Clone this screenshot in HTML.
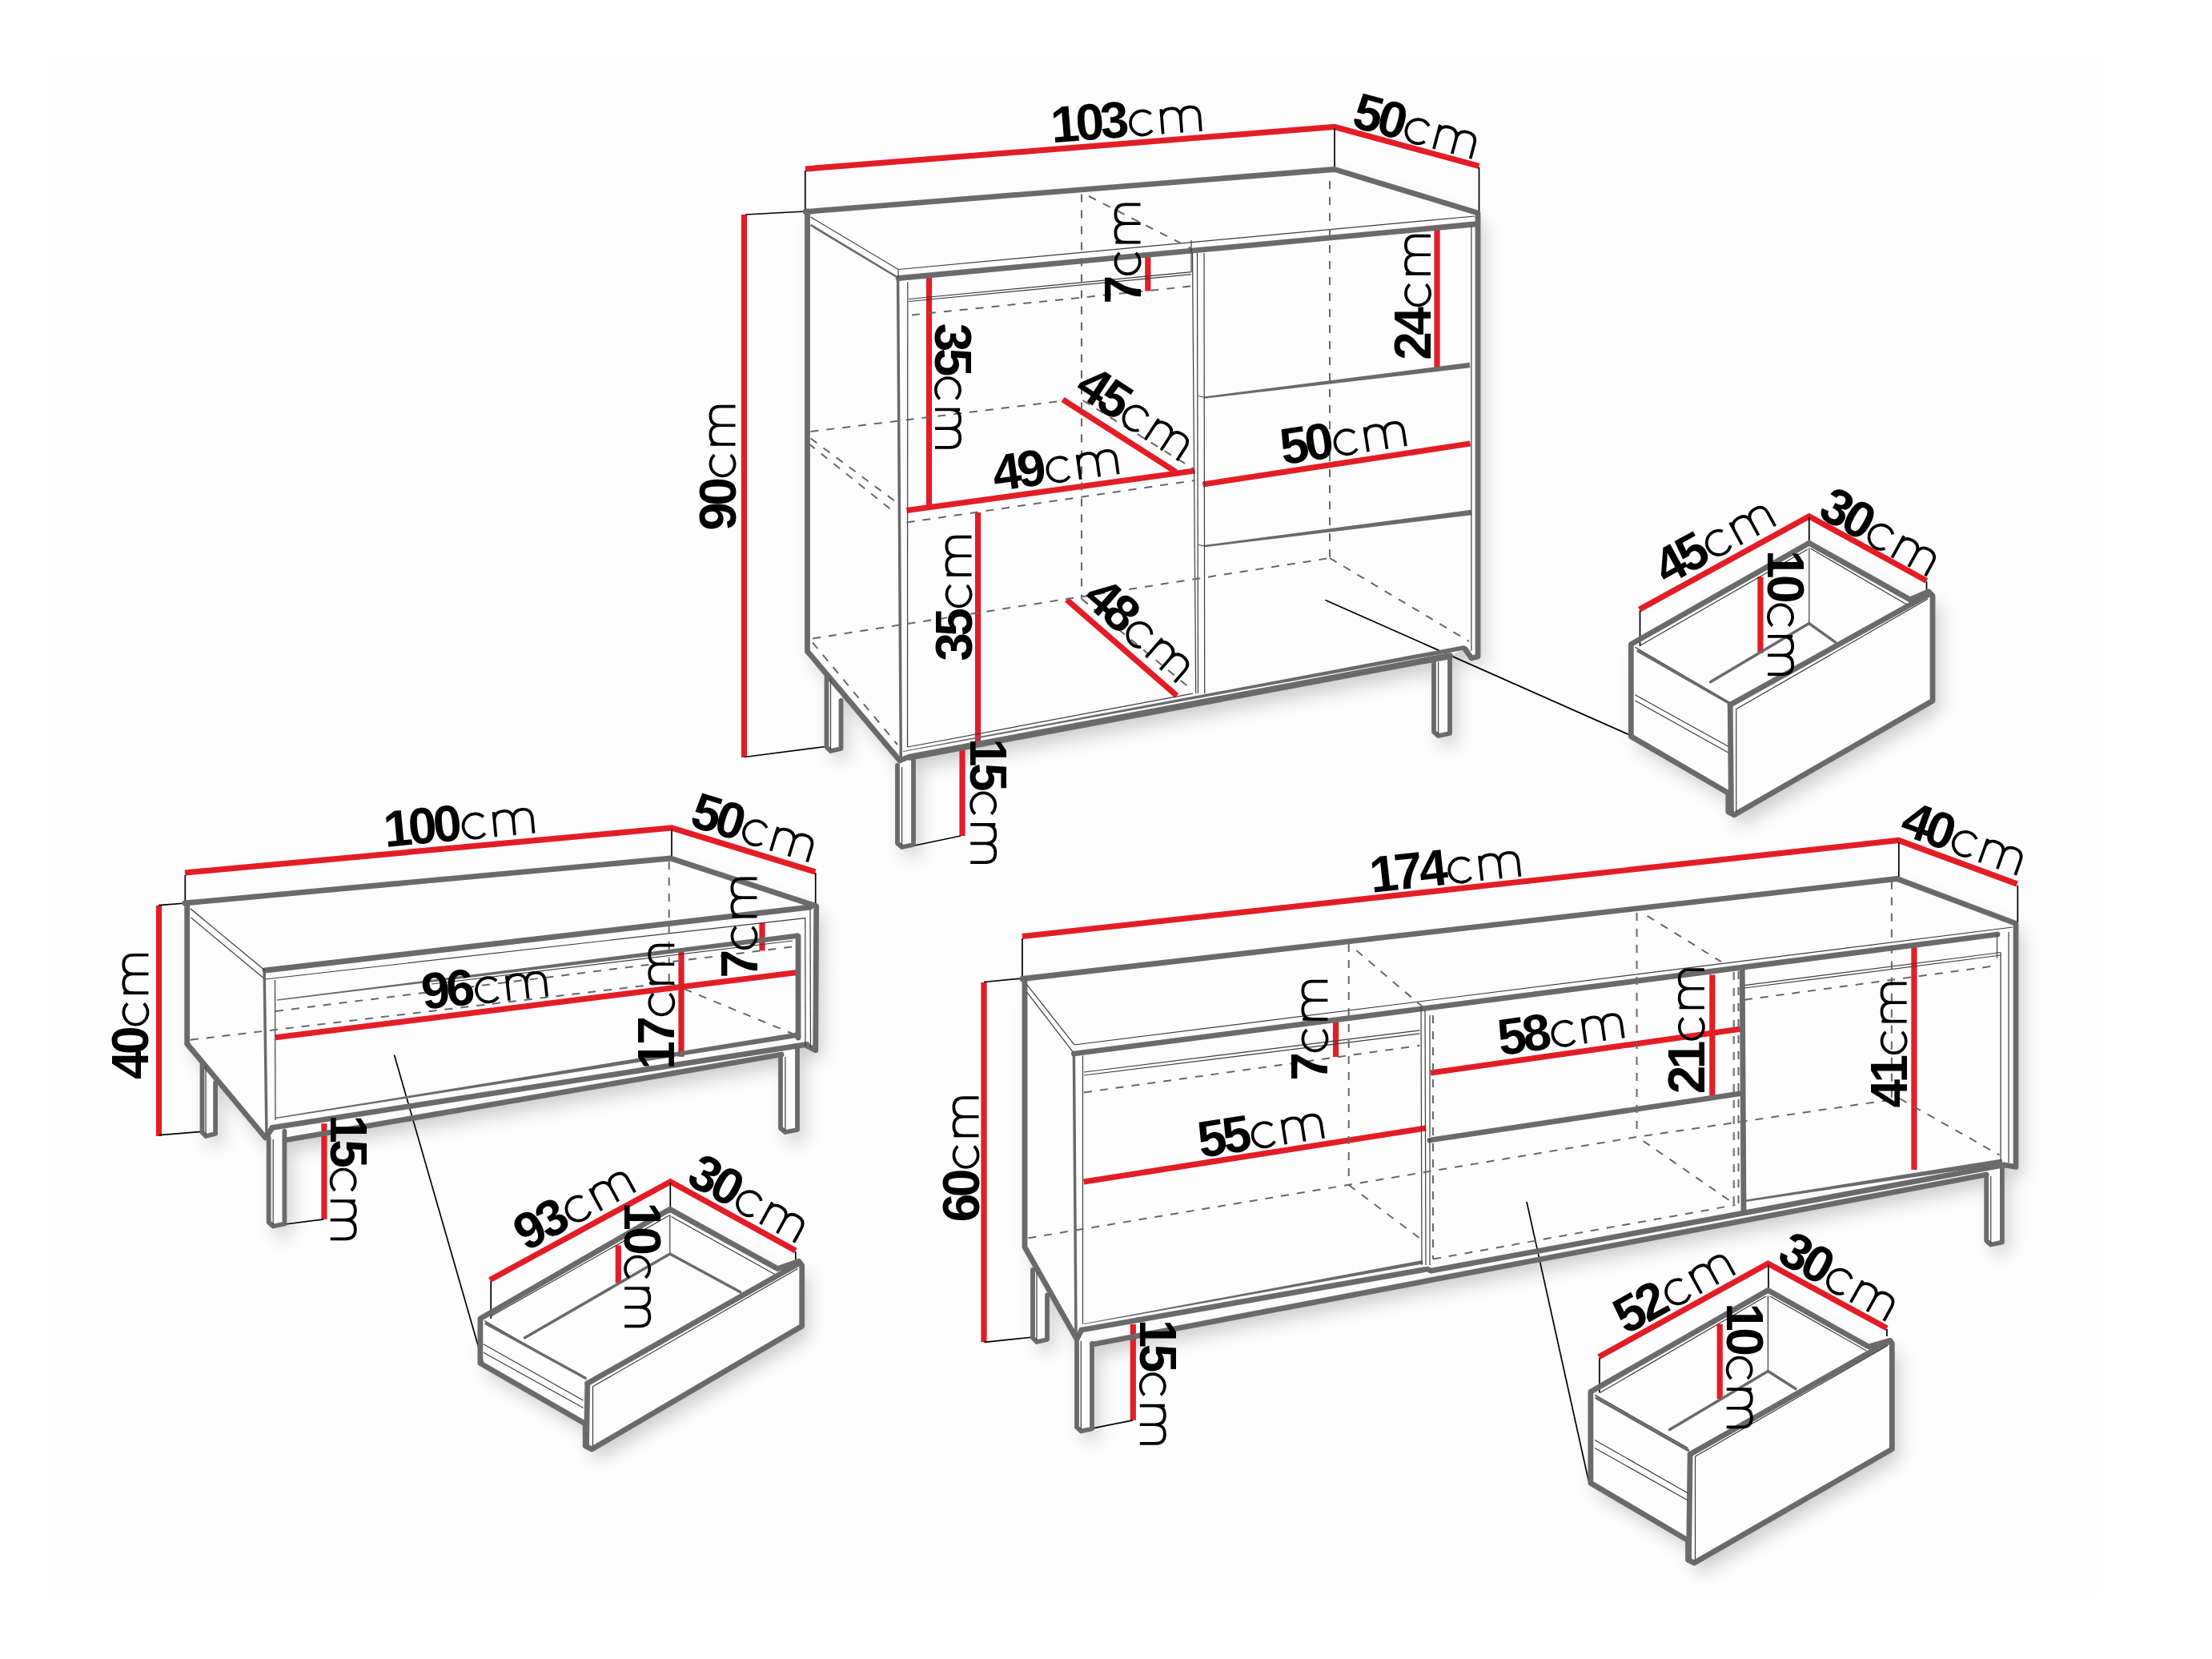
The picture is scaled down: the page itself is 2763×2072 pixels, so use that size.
<!DOCTYPE html>
<html><head><meta charset="utf-8"><title>Furniture dimensions</title>
<style>
html,body{margin:0;padding:0;background:#fefefe;}
body{width:2763px;height:2072px;overflow:hidden;}
svg{display:block;}
.r{fill:none;stroke:#e31d26;stroke-width:7.2;stroke-linejoin:miter;}
.g{fill:none;stroke:#6a6a6a;stroke-width:6.8;stroke-linejoin:round;stroke-linecap:round;}
.g4{fill:none;stroke:#6a6a6a;stroke-width:5.8;stroke-linejoin:round;stroke-linecap:round;}
.gm{fill:none;stroke:#6a6a6a;stroke-width:3.5;stroke-linecap:round;}
.gm2{fill:none;stroke:#6a6a6a;stroke-width:2.6;}
.g8{fill:none;stroke:#6a6a6a;stroke-width:8;stroke-linecap:round;}
.wg{fill:#6a6a6a;stroke:none;}
.t{fill:none;stroke:#3c3c3c;stroke-width:1.2;}
.d{fill:none;stroke:#676767;stroke-width:2;stroke-dasharray:10 10;}
.k{fill:none;stroke:#000;stroke-width:1.7;}
.lab text{font-family:"Liberation Sans",sans-serif;fill:#000;font-weight:bold;}
.sh polyline{fill:none;stroke:#000;stroke-width:14;stroke-linecap:round;}
</style></head>
<body>
<svg xmlns="http://www.w3.org/2000/svg" width="2763" height="2072" viewBox="0 0 2763 2072">
<defs><filter id="ds" x="-5%" y="-5%" width="115%" height="115%"><feGaussianBlur in="SourceAlpha" stdDeviation="11"/><feOffset dx="8" dy="13" result="b"/><feFlood flood-color="#000" flood-opacity="0.19"/><feComposite in2="b" operator="in"/><feMerge><feMergeNode/><feMergeNode in="SourceGraphic"/></feMerge></filter></defs>
<rect x="0" y="0" width="2763" height="2072" fill="#fefefe"/>
<rect x="62" y="70" width="2560" height="1920" fill="#fdfdfd"/>
<g filter="url(#ds)" fill="#fdfdfd">
<polygon points="1006.0,264.5 1667.0,211.5 1846.0,266.0 1846.0,820.0 1838.0,822.0 1830.0,810.0 1811.0,819.0 1811.0,917.0 1798.0,920.0 1791.0,915.0 1791.0,825.0 1141.0,946.0 1141.0,1056.0 1126.0,1058.5 1121.0,1052.0 1121.0,956.0 1124.0,950.0 1050.5,863.0 1050.5,935.0 1036.0,937.5 1032.5,932.5 1032.5,842.0 1008.5,813.5 1008.5,264.0"/>
<polygon points="2037.3,804.6 2259.8,678.2 2385.5,748.8 2409.0,739.0 2414.0,744.0 2414.0,875.2 2166.2,1017.7 2158.8,1014.0 2158.8,990.4 2037.3,919.8"/>
<polygon points="230.7,1128.0 837.7,1072.0 1019.7,1131.7 1018.7,1311.7 1008.0,1306.0 996.4,1306.0 996.4,1411.0 980.0,1415.0 975.0,1411.0 975.0,1318.0 355.4,1424.0 355.4,1530.0 341.0,1533.0 335.7,1528.0 335.7,1421.0 331.5,1420.9 269.1,1346.1 269.1,1417.0 255.6,1419.3 252.5,1416.8 252.5,1326.2 233.7,1303.7 233.7,1128.0"/>
<polygon points="599.9,1646.9 836.8,1510.3 971.2,1584.6 997.8,1575.3 1001.7,1580.6 1001.7,1656.2 739.2,1810.0 731.2,1806.0 731.2,1778.2 599.9,1702.6"/>
<polygon points="1276.9,1222.5 2369.5,1097.5 2518.0,1153.4 2518.0,1457.4 2504.0,1455.0 2500.9,1457.4 2500.9,1551.0 2487.0,1554.3 2481.2,1550.0 2481.2,1467.0 1364.0,1679.0 1364.0,1783.8 1348.8,1787.5 1345.0,1781.2 1345.0,1672.5 1308.0,1607.0 1308.0,1672.5 1293.8,1676.2 1290.0,1672.5 1290.0,1575.2 1280.0,1557.5 1280.0,1223.0"/>
<polygon points="1986.9,1738.2 2208.4,1611.5 2333.9,1681.9 2360.8,1674.2 2363.3,1678.0 2363.3,1809.9 2116.2,1952.0 2108.5,1948.2 2108.5,1923.9 1986.9,1852.2"/>
</g>
<polyline class="r" points="1006.0,211.0 1667.0,158.5 1847.5,207.5"/>
<polyline class="r" points="929.5,268.0 929.5,946.0"/>
<polyline class="r" points="1433.8,320.0 1433.8,363.5"/>
<polyline class="r" points="1160.5,345.0 1160.5,631.5"/>
<polyline class="r" points="1795.0,284.0 1795.0,461.0"/>
<polyline class="r" points="1327.5,499.0 1469.0,589.5"/>
<polyline class="r" points="1132.5,637.5 1492.5,588.0"/>
<polyline class="r" points="1502.5,605.0 1836.5,554.0"/>
<polyline class="r" points="1221.5,640.0 1221.5,932.0"/>
<polyline class="r" points="1332.5,749.0 1470.0,869.0"/>
<polyline class="r" points="1202.0,936.0 1202.0,1044.0"/>
<polyline class="k" points="1005.8,213.0 1005.8,264.0 931.0,268.0"/>
<polyline class="k" points="1667.0,160.0 1667.0,211.0"/>
<polyline class="k" points="1847.5,209.0 1847.5,266.0"/>
<polyline class="k" points="930.0,945.5 1031.0,932.5"/>
<polyline class="k" points="1142.5,1056.0 1200.0,1044.0"/>
<polyline class="k" points="1655.5,749.5 2034.5,917.5"/>
<polyline class="g" points="1006.0,264.5 1667.0,211.5 1846.0,266.0 1846.0,820.0 1838.0,822.0 1830.0,810.5"/>
<polyline class="g" points="1008.5,264.0 1008.5,813.5 1124.0,950.0 1132.0,946.5"/>
<polyline class="g" points="1122.0,347.5 1842.0,280.0"/>
<polygon class="wg" points="1128.1,939.1 1830.5,811.4 1829.5,806.0 1127.9,937.9"/>
<polyline class="g8" points="1136.0,945.7 1811.0,819.2"/>
<polygon class="wg" points="1505.2,497.7 1836.4,459.2 1835.6,452.8 1504.8,495.3"/>
<polygon class="wg" points="1505.2,683.2 1838.4,643.2 1837.6,636.8 1504.8,680.8"/>
<polyline class="gm" points="1121.6,350.0 1125.3,950.0"/>
<polyline class="t" points="1012.5,271.0 1122.0,336.5 1842.0,270.0"/>
<polyline class="gm2" points="1012.5,281.0 1122.0,347.0"/>
<polyline class="t" points="1122.0,336.5 1122.0,347.5"/>
<polyline class="t" points="1133.8,352.0 1133.5,933.0"/>
<polyline class="t" points="1135.0,373.5 1488.0,339.7 1488.0,300.0"/>
<polyline class="t" points="1135.0,376.5 1488.0,342.7"/>
<polyline class="t" points="1489.5,316.0 1493.7,866.0"/>
<polyline class="t" points="1495.5,316.0 1496.5,866.0"/>
<polyline class="t" points="1504.0,316.0 1504.7,866.0"/>
<polyline class="t" points="1837.9,282.0 1837.9,813.0"/>
<polyline class="t" points="1133.5,933.0 1490.0,866.2"/>
<polyline class="t" points="1497.0,494.5 1505.0,496.5"/>
<polyline class="t" points="1497.0,680.5 1505.0,682.0"/>
<polyline class="d" points="1351.0,242.5 1351.0,748.0"/>
<polyline class="d" points="1661.0,226.0 1661.0,697.0"/>
<polyline class="d" points="1360.0,245.0 1487.0,310.0"/>
<polyline class="d" points="1139.0,393.4 1487.0,357.6"/>
<polyline class="d" points="1012.5,539.0 1325.0,501.0"/>
<polyline class="d" points="1012.5,547.5 1120.0,627.5"/>
<polyline class="d" points="1010.0,554.0 1117.5,640.0"/>
<polyline class="d" points="1132.5,652.5 1492.5,600.0"/>
<polyline class="d" points="1352.5,500.0 1490.0,585.0"/>
<polyline class="d" points="1015.0,797.5 1661.0,697.0"/>
<polyline class="d" points="1015.0,802.5 1121.0,930.0"/>
<polyline class="d" points="1351.0,748.0 1490.0,862.5"/>
<polyline class="d" points="1661.0,697.0 1835.0,801.0"/>
<polyline class="g4" points="1032.5,846.0 1032.5,933.0 1037.5,938.0 1050.5,935.0 1050.5,875.0"/>
<polyline class="t" points="1037.5,848.0 1037.5,936.0"/>
<polyline class="g4" points="1121.0,956.0 1121.0,1053.0 1126.6,1058.0 1141.0,1055.0 1141.0,950.0"/>
<polyline class="t" points="1126.6,958.0 1126.6,1056.0"/>
<polyline class="g4" points="1791.0,825.0 1791.0,914.0 1796.6,919.0 1811.0,916.0 1811.0,820.0"/>
<polyline class="t" points="1796.6,827.0 1796.6,917.0"/>
<polyline class="r" points="2047.8,761.2 2259.8,644.8 2406.5,725.3"/>
<polyline class="r" points="2198.9,720.3 2198.9,815.7"/>
<polyline class="k" points="2048.5,762.5 2048.5,807.0"/>
<polyline class="k" points="2259.8,646.0 2259.8,679.5"/>
<polyline class="k" points="2406.5,726.5 2406.5,737.0"/>
<polygon class="g" points="2037.3,804.6 2259.8,678.2 2385.5,748.8 2409.0,739.0 2414.0,744.0 2414.0,875.2 2166.2,1017.7 2158.8,1014.0 2158.8,990.4 2037.3,919.8"/>
<polyline class="g" points="2161.2,880.2 2409.0,742.6"/>
<polyline class="g" points="2161.2,880.2 2162.5,1014.0"/>
<polyline class="t" points="2168.7,886.3 2168.7,1014.0"/>
<polyline class="t" points="2168.0,886.0 2408.0,748.0"/>
<polyline class="t" points="2042.3,808.3 2161.2,877.7"/>
<polyline class="gm" points="2046.0,813.0 2158.0,877.0"/>
<polyline class="t" points="2042.3,867.8 2158.8,932.2"/>
<polyline class="t" points="2042.3,875.0 2158.8,940.0"/>
<polyline class="t" points="2259.8,684.0 2259.8,778.6"/>
<polyline class="gm" points="2259.8,778.6 2136.5,851.7"/>
<polyline class="gm" points="2259.8,778.6 2292.5,802.1"/>
<polyline class="t" points="2049.0,806.0 2258.0,686.0"/>
<polyline class="t" points="2261.5,685.0 2381.7,755.0"/>
<polyline class="r" points="231.0,1090.0 839.0,1034.0 1018.5,1089.0"/>
<polyline class="r" points="198.5,1131.0 198.5,1419.0"/>
<polyline class="r" points="952.0,1152.6 952.0,1187.4"/>
<polyline class="r" points="344.1,1295.8 997.9,1214.2"/>
<polyline class="r" points="851.0,1188.4 851.0,1319.7"/>
<polyline class="r" points="404.9,1403.2 404.9,1522.8"/>
<polyline class="k" points="231.3,1093.0 231.3,1128.0 198.0,1130.7"/>
<polyline class="k" points="839.0,1036.0 839.0,1071.0"/>
<polyline class="k" points="1018.7,1090.0 1018.7,1131.7"/>
<polyline class="k" points="199.0,1417.7 252.0,1413.4"/>
<polyline class="k" points="356.4,1529.0 404.3,1522.8"/>
<polyline class="k" points="492.5,1317.5 603.9,1704.0"/>
<polyline class="g" points="230.7,1128.0 837.7,1072.0 1019.7,1131.7 1018.7,1311.7 1008.0,1306.0"/>
<polyline class="g" points="233.7,1128.0 233.7,1303.7 331.5,1420.9 340.0,1409.0"/>
<polyline class="g" points="331.0,1212.0 1012.0,1133.0"/>
<polyline class="t" points="331.0,1223.0 1006.0,1146.6"/>
<polyline class="t" points="237.7,1134.7 331.2,1212.2"/>
<polyline class="t" points="238.5,1146.0 331.2,1223.2"/>
<polygon class="wg" points="346.0,1249.7 998.4,1171.7 997.6,1165.3 345.8,1248.3"/>
<polyline class="t" points="539.0,1229.0 990.0,1175.0"/>
<polyline class="g" points="997.0,1169.5 997.0,1296.0"/>
<polygon class="wg" points="344.1,1397.2 1000.5,1295.2 999.5,1288.8 343.9,1395.8"/>
<polyline class="g" points="340.0,1408.4 1008.0,1304.4"/>
<polyline class="g" points="356.0,1424.0 976.0,1317.0"/>
<polyline class="gm" points="330.2,1215.0 333.0,1418.0"/>
<polyline class="t" points="343.5,1224.0 344.0,1399.0"/>
<polyline class="t" points="1005.8,1146.0 1006.0,1306.0"/>
<polyline class="t" points="1012.0,1136.0 1012.5,1309.0"/>
<polyline class="d" points="835.7,1076.0 835.7,1227.2"/>
<polyline class="d" points="237.7,1298.8 836.7,1227.2"/>
<polyline class="d" points="344.1,1263.0 989.9,1182.4"/>
<polyline class="d" points="836.0,1227.5 990.0,1291.0"/>
<polyline class="g4" points="252.5,1329.0 252.5,1414.0 257.1,1419.0 269.1,1416.0 269.1,1352.0"/>
<polyline class="t" points="257.1,1331.0 257.1,1417.0"/>
<polyline class="g4" points="335.7,1421.0 335.7,1526.5 341.2,1531.5 355.4,1528.5 355.4,1412.6"/>
<polyline class="t" points="341.2,1423.0 341.2,1529.5"/>
<polyline class="g4" points="975.0,1318.0 975.0,1409.0 980.9,1414.0 996.0,1411.0 996.0,1306.0"/>
<polyline class="t" points="980.9,1320.0 980.9,1412.0"/>
<polyline class="r" points="611.8,1598.6 837.3,1475.8 993.8,1562.0"/>
<polyline class="r" points="772.3,1555.4 772.3,1602.3"/>
<polyline class="k" points="613.2,1600.5 613.2,1646.9"/>
<polyline class="k" points="837.3,1477.0 837.3,1507.6"/>
<polyline class="k" points="993.8,1563.3 993.8,1573.0"/>
<polygon class="g" points="599.9,1646.9 836.8,1510.3 971.2,1584.6 997.8,1575.3 1001.7,1580.6 1001.7,1656.2 739.2,1810.0 731.2,1806.0 731.2,1778.2 599.9,1702.6"/>
<polyline class="g" points="733.8,1727.8 997.8,1578.0"/>
<polyline class="g" points="733.8,1727.8 732.5,1806.0"/>
<polyline class="t" points="740.5,1731.8 740.5,1806.0"/>
<polyline class="t" points="740.0,1732.0 996.5,1584.6"/>
<polyline class="t" points="605.0,1649.5 732.5,1722.5"/>
<polyline class="gm" points="607.0,1653.0 731.0,1721.0"/>
<polyline class="t" points="603.9,1678.7 728.5,1749.0"/>
<polyline class="t" points="603.9,1689.3 728.5,1758.2"/>
<polyline class="t" points="836.8,1517.0 836.8,1566.0"/>
<polyline class="gm" points="836.8,1566.0 655.6,1670.8"/>
<polyline class="gm" points="836.8,1566.0 924.8,1613.7"/>
<polyline class="t" points="613.0,1644.0 836.0,1518.0"/>
<polyline class="t" points="838.6,1519.6 967.3,1591.2"/>
<polyline class="r" points="1276.9,1169.5 2371.5,1049.5 2519.5,1104.0"/>
<polyline class="r" points="1229.0,1227.0 1229.0,1676.3"/>
<polyline class="r" points="1668.5,1276.0 1668.5,1320.0"/>
<polyline class="r" points="1353.7,1476.0 1781.0,1409.0"/>
<polyline class="r" points="1787.0,1340.0 2178.5,1284.5"/>
<polyline class="r" points="2138.8,1217.5 2138.8,1368.8"/>
<polyline class="r" points="2390.9,1179.7 2390.9,1461.0"/>
<polyline class="r" points="1415.3,1653.8 1415.3,1773.8"/>
<polyline class="k" points="1276.9,1172.0 1276.9,1222.0 1229.0,1226.5"/>
<polyline class="k" points="2371.8,1051.5 2371.8,1096.0"/>
<polyline class="k" points="2520.3,1105.7 2520.3,1152.0"/>
<polyline class="k" points="1229.5,1676.3 1290.0,1670.0"/>
<polyline class="k" points="1365.0,1783.8 1415.0,1773.8"/>
<polyline class="k" points="1907.0,1501.0 1984.3,1849.6"/>
<polyline class="g" points="1276.9,1222.5 2369.5,1097.5 2518.0,1153.4 2518.0,1457.4 2504.0,1455.0"/>
<polyline class="g" points="1280.0,1223.0 1280.0,1557.5 1345.0,1672.5 1351.0,1661.0"/>
<polyline class="g" points="1341.4,1316.0 2495.0,1167.0"/>
<polyline class="t" points="1341.4,1305.0 2514.0,1158.0"/>
<polyline class="t" points="1282.8,1229.9 1341.4,1304.2"/>
<polyline class="t" points="1282.8,1239.4 1341.4,1315.3"/>
<polyline class="g" points="1786.0,1424.0 2172.5,1366.0"/>
<polyline class="g" points="2176.2,1211.0 2178.0,1513.0"/>
<polygon class="wg" points="2179.1,1501.2 2501.4,1454.0 2500.4,1447.6 2178.7,1498.8"/>
<polyline class="g" points="1351.0,1661.0 1783.0,1585.0 1787.5,1587.1 2503.0,1455.0"/>
<polyline class="g" points="1365.0,1679.0 2481.0,1467.0"/>
<polyline class="gm" points="1341.4,1316.0 1344.0,1667.0"/>
<polyline class="t" points="1352.5,1318.5 1352.5,1653.8"/>
<polyline class="t" points="1354.0,1339.0 1773.4,1286.8"/>
<polyline class="t" points="1354.0,1343.0 1773.4,1290.8"/>
<polygon class="wg" points="1354.1,1654.1 1777.4,1578.5 1776.6,1574.1 1353.9,1652.9"/>
<polyline class="t" points="1775.0,1257.0 1776.0,1580.0"/>
<polyline class="t" points="1780.0,1262.0 1781.0,1580.0"/>
<polyline class="t" points="1786.0,1422.0 1786.0,1580.0"/>
<polyline class="t" points="1786.0,1268.0 1786.0,1420.0"/>
<polyline class="t" points="2178.9,1230.6 2499.3,1189.5"/>
<polyline class="t" points="2178.9,1234.0 2499.3,1193.0"/>
<polyline class="t" points="2494.5,1167.5 2494.5,1196.7"/>
<polyline class="t" points="2499.0,1190.0 2499.0,1450.0"/>
<polyline class="t" points="2509.0,1164.0 2509.0,1452.0"/>
<polyline class="d" points="1684.7,1179.0 1684.7,1480.0"/>
<polyline class="d" points="1694.2,1187.0 1778.0,1258.4"/>
<polyline class="d" points="1354.0,1364.4 1773.4,1305.8"/>
<polyline class="d" points="1284.4,1546.3 2044.5,1420.0 2372.8,1372.0"/>
<polyline class="d" points="1684.7,1480.0 1778.0,1550.0"/>
<polyline class="d" points="2044.5,1140.0 2044.5,1420.0"/>
<polyline class="d" points="2057.5,1143.8 2150.0,1201.2"/>
<polyline class="d" points="2052.5,1425.0 2165.0,1502.5"/>
<polyline class="d" points="2362.9,1100.8 2362.9,1375.2"/>
<polyline class="d" points="2372.8,1372.0 2497.6,1442.6"/>
<polyline class="d" points="2178.9,1248.7 2494.3,1206.0"/>
<polyline class="d" points="1790.0,1268.0 1790.0,1572.5"/>
<polyline class="d" points="2165.7,1214.0 2165.7,1510.0"/>
<polyline class="d" points="2171.5,1213.0 2171.5,1510.0"/>
<polyline class="d" points="1790.0,1572.5 2167.5,1505.0"/>
<polyline class="g4" points="1290.0,1586.0 1290.0,1671.0 1295.0,1676.0 1308.0,1673.0 1308.0,1617.5"/>
<polyline class="t" points="1295.0,1588.0 1295.0,1674.0"/>
<polyline class="g4" points="1345.0,1672.5 1345.0,1782.5 1350.3,1787.5 1364.0,1784.5 1364.0,1678.0"/>
<polyline class="t" points="1350.3,1674.5 1350.3,1785.5"/>
<polyline class="g4" points="2481.2,1467.0 2481.2,1549.5 2486.7,1554.5 2500.9,1551.5 2500.9,1457.4"/>
<polyline class="t" points="2486.7,1469.0 2486.7,1552.5"/>
<polyline class="r" points="1997.1,1694.7 2208.4,1578.2 2356.9,1658.8"/>
<polyline class="r" points="2148.2,1653.7 2148.2,1747.2"/>
<polyline class="k" points="1997.9,1696.0 1997.9,1739.5"/>
<polyline class="k" points="2208.9,1579.4 2208.9,1608.9"/>
<polyline class="k" points="2356.9,1660.1 2356.9,1669.1"/>
<polygon class="g" points="1986.9,1738.2 2208.4,1611.5 2333.9,1681.9 2360.8,1674.2 2363.3,1678.0 2363.3,1809.9 2116.2,1952.0 2108.5,1948.2 2108.5,1923.9 1986.9,1852.2"/>
<polyline class="g" points="2111.1,1816.3 2359.5,1675.5"/>
<polyline class="g" points="2111.1,1816.3 2109.5,1948.0"/>
<polyline class="t" points="2117.5,1819.0 2117.5,1949.0"/>
<polyline class="t" points="2117.5,1819.0 2358.0,1680.6"/>
<polyline class="t" points="1992.0,1742.0 2108.5,1808.6"/>
<polyline class="gm" points="1994.0,1746.0 2108.5,1811.2"/>
<polyline class="t" points="1992.0,1798.4 2108.5,1865.0"/>
<polyline class="t" points="1992.0,1808.6 2108.5,1873.9"/>
<polyline class="t" points="2208.4,1618.0 2208.4,1712.6"/>
<polyline class="gm" points="2208.4,1712.6 2085.5,1785.6"/>
<polyline class="gm" points="2208.4,1712.6 2243.0,1734.4"/>
<polyline class="t" points="1998.4,1739.5 2205.8,1619.1"/>
<polyline class="t" points="2211.0,1619.0 2331.3,1687.0"/>
<defs><path id="cmg" d="M28.17,-26.05 A15.1,15.1 0 1 0 28.17,-5.85 M41.35,0 V-31.15 M41.35,-19 C41.35,-27.5 46.00,-31.15 53.20,-31.15 C60.40,-31.15 65.00,-27.5 65.00,-19 V0 M65.00,-19 C65.00,-27.5 69.70,-31.15 76.90,-31.15 C84.10,-31.15 88.70,-27.5 88.70,-19 V0" fill="none" stroke="#000" stroke-width="3.7"/></defs>
<g id="lab0" class="lab" transform="translate(1406.0,149.0) rotate(-4.4) scale(1.000)"><g transform="translate(-93.74,22.0) scale(1.0,1)"><text x="0" y="0" class="b" style="font-size:64px;letter-spacing:-4.6px">103</text></g><use href="#cmg" x="3.74" y="22.0"/></g>
<g id="lab1" class="lab" transform="translate(1768.0,157.0) rotate(15.0) scale(1.000)"><g transform="translate(-78.24,22.0) scale(1.0,1)"><text x="0" y="0" class="b" style="font-size:64px;letter-spacing:-4.6px">50</text></g><use href="#cmg" x="-11.76" y="22.0"/></g>
<g id="lab2" class="lab" transform="translate(896.5,584.5) rotate(-90) scale(1.000)"><g transform="translate(-78.24,22.0) scale(1.0,1)"><text x="0" y="0" class="b" style="font-size:64px;letter-spacing:-4.6px">90</text></g><use href="#cmg" x="-11.76" y="22.0"/></g>
<g id="lab3" class="lab" transform="translate(1402.5,316.8) rotate(-90) scale(1.000)"><g transform="translate(-62.75,22.0) scale(1.0,1)"><text x="0" y="0" class="b" style="font-size:64px;letter-spacing:-4.6px">7</text></g><use href="#cmg" x="-27.25" y="22.0"/></g>
<g id="lab4" class="lab" transform="translate(1190.0,481.9) rotate(90) scale(1.000)"><g transform="translate(-78.24,22.0) scale(1.0,1)"><text x="0" y="0" class="b" style="font-size:64px;letter-spacing:-4.6px">35</text></g><use href="#cmg" x="-11.76" y="22.0"/></g>
<g id="lab5" class="lab" transform="translate(1765.0,371.5) rotate(-90) scale(1.000)"><g transform="translate(-78.24,22.0) scale(1.0,1)"><text x="0" y="0" class="b" style="font-size:64px;letter-spacing:-4.6px">24</text></g><use href="#cmg" x="-11.76" y="22.0"/></g>
<g id="lab6" class="lab" transform="translate(1417.6,514.7) rotate(33.0) scale(1.000)"><g transform="translate(-78.24,22.0) scale(1.0,1)"><text x="0" y="0" class="b" style="font-size:64px;letter-spacing:-4.6px">45</text></g><use href="#cmg" x="-11.76" y="22.0"/></g>
<g id="lab7" class="lab" transform="translate(1317.5,581.0) rotate(-7.8) scale(1.000)"><g transform="translate(-78.24,22.0) scale(1.0,1)"><text x="0" y="0" class="b" style="font-size:64px;letter-spacing:-4.6px">49</text></g><use href="#cmg" x="-11.76" y="22.0"/></g>
<g id="lab8" class="lab" transform="translate(1676.5,547.0) rotate(-8.7) scale(1.000)"><g transform="translate(-78.24,22.0) scale(1.0,1)"><text x="0" y="0" class="b" style="font-size:64px;letter-spacing:-4.6px">50</text></g><use href="#cmg" x="-11.76" y="22.0"/></g>
<g id="lab9" class="lab" transform="translate(1191.5,747.5) rotate(-90) scale(1.000)"><g transform="translate(-78.24,22.0) scale(1.0,1)"><text x="0" y="0" class="b" style="font-size:64px;letter-spacing:-4.6px">35</text></g><use href="#cmg" x="-11.76" y="22.0"/></g>
<g id="lab10" class="lab" transform="translate(1423.5,785.0) rotate(41.0) scale(1.000)"><g transform="translate(-78.24,22.0) scale(1.0,1)"><text x="0" y="0" class="b" style="font-size:64px;letter-spacing:-4.6px">48</text></g><use href="#cmg" x="-11.76" y="22.0"/></g>
<g id="lab11" class="lab" transform="translate(1234.2,1000.2) rotate(90) scale(1.000)"><g transform="translate(-78.24,22.0) scale(1.0,1)"><text x="0" y="0" class="b" style="font-size:64px;letter-spacing:-4.6px">15</text></g><use href="#cmg" x="-11.76" y="22.0"/></g>
<g id="lab12" class="lab" transform="translate(2139.4,675.0) rotate(-28.8) scale(1.000)"><g transform="translate(-78.24,22.0) scale(1.0,1)"><text x="0" y="0" class="b" style="font-size:64px;letter-spacing:-4.6px">45</text></g><use href="#cmg" x="-11.76" y="22.0"/></g>
<g id="lab13" class="lab" transform="translate(2348.0,663.0) rotate(28.8) scale(1.000)"><g transform="translate(-78.24,22.0) scale(1.0,1)"><text x="0" y="0" class="b" style="font-size:64px;letter-spacing:-4.6px">30</text></g><use href="#cmg" x="-11.76" y="22.0"/></g>
<g id="lab14" class="lab" transform="translate(2230.0,765.2) rotate(90) scale(1.000)"><g transform="translate(-78.24,22.0) scale(1.0,1)"><text x="0" y="0" class="b" style="font-size:64px;letter-spacing:-4.6px">10</text></g><use href="#cmg" x="-11.76" y="22.0"/></g>
<g id="lab15" class="lab" transform="translate(572.5,1027.4) rotate(-5.3) scale(1.000)"><g transform="translate(-93.74,22.0) scale(1.0,1)"><text x="0" y="0" class="b" style="font-size:64px;letter-spacing:-4.6px">100</text></g><use href="#cmg" x="3.74" y="22.0"/></g>
<g id="lab16" class="lab" transform="translate(940.9,1033.0) rotate(17.0) scale(1.000)"><g transform="translate(-78.24,22.0) scale(1.0,1)"><text x="0" y="0" class="b" style="font-size:64px;letter-spacing:-4.6px">50</text></g><use href="#cmg" x="-11.76" y="22.0"/></g>
<g id="lab17" class="lab" transform="translate(163.4,1269.7) rotate(-90) scale(1.000)"><g transform="translate(-78.24,22.0) scale(1.0,1)"><text x="0" y="0" class="b" style="font-size:64px;letter-spacing:-4.6px">40</text></g><use href="#cmg" x="-11.76" y="22.0"/></g>
<g id="lab18" class="lab" transform="translate(923.5,1158.8) rotate(-90) scale(1.000)"><g transform="translate(-62.75,22.0) scale(1.0,1)"><text x="0" y="0" class="b" style="font-size:64px;letter-spacing:-4.6px">7</text></g><use href="#cmg" x="-27.25" y="22.0"/></g>
<g id="lab19" class="lab" transform="translate(604.3,1230.8) rotate(-6.0) scale(1.000)"><g transform="translate(-78.24,22.0) scale(1.0,1)"><text x="0" y="0" class="b" style="font-size:64px;letter-spacing:-4.6px">96</text></g><use href="#cmg" x="-11.76" y="22.0"/></g>
<g id="lab20" class="lab" transform="translate(820.3,1257.5) rotate(-90) scale(1.000)"><g transform="translate(-78.24,22.0) scale(1.0,1)"><text x="0" y="0" class="b" style="font-size:64px;letter-spacing:-4.6px">17</text></g><use href="#cmg" x="-11.76" y="22.0"/></g>
<g id="lab21" class="lab" transform="translate(434.7,1470.4) rotate(90) scale(1.000)"><g transform="translate(-78.24,22.0) scale(1.0,1)"><text x="0" y="0" class="b" style="font-size:64px;letter-spacing:-4.6px">15</text></g><use href="#cmg" x="-11.76" y="22.0"/></g>
<g id="lab22" class="lab" transform="translate(715.1,1506.7) rotate(-28.6) scale(1.000)"><g transform="translate(-78.24,22.0) scale(1.0,1)"><text x="0" y="0" class="b" style="font-size:64px;letter-spacing:-4.6px">93</text></g><use href="#cmg" x="-11.76" y="22.0"/></g>
<g id="lab23" class="lab" transform="translate(934.5,1495.5) rotate(28.7) scale(1.000)"><g transform="translate(-78.24,22.0) scale(1.0,1)"><text x="0" y="0" class="b" style="font-size:64px;letter-spacing:-4.6px">30</text></g><use href="#cmg" x="-11.76" y="22.0"/></g>
<g id="lab24" class="lab" transform="translate(802.2,1579.4) rotate(90) scale(1.000)"><g transform="translate(-78.24,22.0) scale(1.0,1)"><text x="0" y="0" class="b" style="font-size:64px;letter-spacing:-4.6px">10</text></g><use href="#cmg" x="-11.76" y="22.0"/></g>
<g id="lab25" class="lab" transform="translate(1804.1,1082.9) rotate(-6.25) scale(1.000)"><g transform="translate(-93.74,22.0) scale(1.0,1)"><text x="0" y="0" class="b" style="font-size:64px;letter-spacing:-4.6px">174</text></g><use href="#cmg" x="3.74" y="22.0"/></g>
<g id="lab26" class="lab" transform="translate(2452.0,1046.5) rotate(19.5) scale(1.000)"><g transform="translate(-78.24,22.0) scale(1.0,1)"><text x="0" y="0" class="b" style="font-size:64px;letter-spacing:-4.6px">40</text></g><use href="#cmg" x="-11.76" y="22.0"/></g>
<g id="lab27" class="lab" transform="translate(1200.5,1448.0) rotate(-90) scale(1.000)"><g transform="translate(-78.24,22.0) scale(1.0,1)"><text x="0" y="0" class="b" style="font-size:64px;letter-spacing:-4.6px">60</text></g><use href="#cmg" x="-11.76" y="22.0"/></g>
<g id="lab28" class="lab" transform="translate(1636.4,1287.0) rotate(-90) scale(1.000)"><g transform="translate(-62.75,22.0) scale(1.0,1)"><text x="0" y="0" class="b" style="font-size:64px;letter-spacing:-4.6px">7</text></g><use href="#cmg" x="-27.25" y="22.0"/></g>
<g id="lab29" class="lab" transform="translate(1573.6,1412.1) rotate(-9.0) scale(1.000)"><g transform="translate(-78.24,22.0) scale(1.0,1)"><text x="0" y="0" class="b" style="font-size:64px;letter-spacing:-4.6px">55</text></g><use href="#cmg" x="-11.76" y="22.0"/></g>
<g id="lab30" class="lab" transform="translate(1948.5,1285.5) rotate(-8.06) scale(1.000)"><g transform="translate(-78.24,22.0) scale(1.0,1)"><text x="0" y="0" class="b" style="font-size:64px;letter-spacing:-4.6px">58</text></g><use href="#cmg" x="-11.76" y="22.0"/></g>
<g id="lab31" class="lab" transform="translate(2106.8,1288.0) rotate(-90) scale(1.000)"><g transform="translate(-78.24,22.0) scale(1.0,1)"><text x="0" y="0" class="b" style="font-size:64px;letter-spacing:-4.6px">21</text></g><use href="#cmg" x="-11.76" y="22.0"/></g>
<g id="lab32" class="lab" transform="translate(2359.6,1305.3) rotate(-90) scale(1.000)"><g transform="translate(-78.24,22.0) scale(1.0,1)"><text x="0" y="0" class="b" style="font-size:64px;letter-spacing:-4.6px">41</text></g><use href="#cmg" x="-11.76" y="22.0"/></g>
<g id="lab33" class="lab" transform="translate(1445.8,1726.0) rotate(90) scale(1.000)"><g transform="translate(-78.24,22.0) scale(1.0,1)"><text x="0" y="0" class="b" style="font-size:64px;letter-spacing:-4.6px">15</text></g><use href="#cmg" x="-11.76" y="22.0"/></g>
<g id="lab34" class="lab" transform="translate(2088.7,1610.4) rotate(-29.0) scale(1.000)"><g transform="translate(-78.24,22.0) scale(1.0,1)"><text x="0" y="0" class="b" style="font-size:64px;letter-spacing:-4.6px">52</text></g><use href="#cmg" x="-11.76" y="22.0"/></g>
<g id="lab35" class="lab" transform="translate(2296.5,1593.0) rotate(29.0) scale(1.000)"><g transform="translate(-78.24,22.0) scale(1.0,1)"><text x="0" y="0" class="b" style="font-size:64px;letter-spacing:-4.6px">30</text></g><use href="#cmg" x="-11.76" y="22.0"/></g>
<g id="lab36" class="lab" transform="translate(2178.7,1705.5) rotate(90) scale(1.000)"><g transform="translate(-78.24,22.0) scale(1.0,1)"><text x="0" y="0" class="b" style="font-size:64px;letter-spacing:-4.6px">10</text></g><use href="#cmg" x="-11.76" y="22.0"/></g>
</svg>
</body></html>
